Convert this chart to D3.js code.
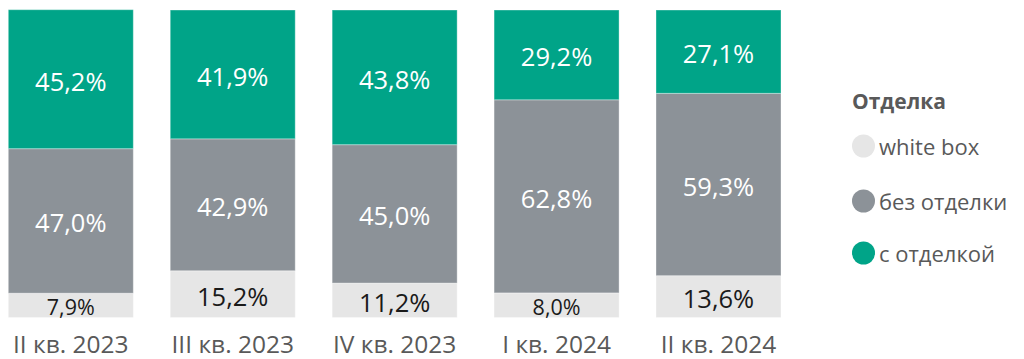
<!DOCTYPE html>
<html>
<head>
<meta charset="utf-8">
<script src="https://cdn.jsdelivr.net/npm/d3@7"></script>
<style>
  html, body { margin: 0; padding: 0; background: #fff; }
  svg { display: block; }
</style>
</head>
<body>
<svg id="chart" width="1024" height="359"></svg>
<script>
const categories = ["II кв. 2023", "III кв. 2023", "IV кв. 2023", "I кв. 2024", "II кв. 2024"];
const seriesNames = ["white box", "без отделки", "с отделкой"];
const whiteBox = [7.9, 15.2, 11.2, 8.0, 13.6];
const bezOtdelki = [47.0, 42.9, 45.0, 62.8, 59.3];
const sOtdelkoi = [45.2, 41.9, 43.8, 29.2, 27.1];
const legendTitle = "Отделка";
const colors = ["#E6E6E6", "#8C9298", "#00A488"];
const labelColors = ["#1a1a1a", "#ffffff", "#ffffff"];

const seriesValues = [whiteBox, bezOtdelki, sOtdelkoi];
const rows = categories.map((c, i) => {
  const r = { cat: c };
  seriesNames.forEach((s, j) => r[s] = seriesValues[j][i]);
  return r;
});

const svg = d3.select("#chart");
const font = "'Open Sans', 'Noto Sans', sans-serif";

const x = d3.scaleBand().domain(categories).range([8.3, 781]).paddingInner(0.228).paddingOuter(0);
const y = d3.scaleLinear().domain([0, 100]).range([317.5, 10]);

const stack = d3.stack().keys(seriesNames)(rows);

const groups = svg.selectAll("g.series").data(stack).join("g").attr("class", "series");
groups.each(function(layer, j) {
  const g = d3.select(this);
  g.selectAll("rect").data(layer).join("rect")
    .attr("x", d => x(d.data.cat))
    .attr("width", x.bandwidth())
    .attr("y", d => y(d[1]))
    .attr("height", d => y(d[0]) - y(d[1]))
    .attr("fill", colors[j])
    .attr("stroke", "rgba(255,255,255,0.35)")
    .attr("stroke-width", 1);
  g.selectAll("text").data(layer).join("text")
    .attr("x", d => x(d.data.cat) + x.bandwidth() / 2)
    .attr("y", d => (y(d[0]) + y(d[1])) / 2 + 1.5)
    .attr("text-anchor", "middle")
    .attr("dominant-baseline", "central")
    .attr("font-family", font)
    .attr("font-size", d => (y(d[0]) - y(d[1]) < 30 ? 21.5 : 25.5))
    .attr("fill", labelColors[j])
    .text(d => (d[1] - d[0]).toFixed(1).replace(".", ",") + "%");
});

// category axis labels
const xAxis = d3.axisBottom(x).tickSize(0).tickPadding(0);
const axisG = svg.append("g").attr("transform", "translate(0,336)").call(xAxis);
axisG.select(".domain").remove();
axisG.selectAll("text")
  .attr("font-family", font)
  .attr("font-size", 24.5)
  .attr("fill", "#595959")
  .attr("dy", "0.71em");

// legend
const legend = svg.append("g");
legend.append("text")
  .attr("x", 852).attr("y", 109)
  .attr("font-family", font).attr("font-weight", "bold")
  .attr("font-size", 21).attr("fill", "#595959")
  .text(legendTitle);
const legendY = [146, 201, 253];
const items = legend.selectAll("g.item").data(seriesNames).join("g").attr("class", "item");
items.append("circle")
  .attr("cx", 863.5).attr("cy", (d, i) => legendY[i]).attr("r", 11.5)
  .attr("fill", (d, i) => colors[i]);
items.append("text")
  .attr("x", 879).attr("y", (d, i) => legendY[i])
  .attr("dominant-baseline", "central")
  .attr("font-family", font).attr("font-size", 22)
  .attr("fill", "#595959")
  .text(d => d);
</script>
</body>
</html>
